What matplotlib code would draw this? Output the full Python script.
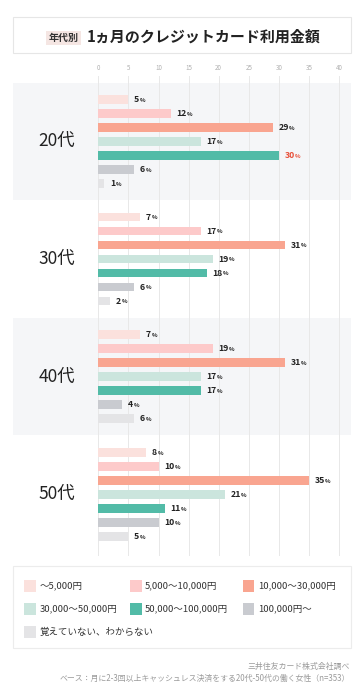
import matplotlib
matplotlib.use('Agg')
import matplotlib.pyplot as plt
from matplotlib.patches import Rectangle
import numpy as np

plt.rcParams['font.family'] = ['Noto Sans CJK JP', 'DejaVu Sans']

groups = ['20代', '30代', '40代', '50代']
categories = ['～5,000円', '5,000～10,000円', '10,000～30,000円', '30,000～50,000円',
              '50,000～100,000円', '100,000円～', '覚えていない、わからない']
colors = ['#fbe1dd', '#fdcaca', '#f9a590', '#cbe5dd', '#52bba7', '#c9cbd0', '#e4e4e6']
values = {
    '20代': [5, 12, 29, 17, 30, 6, 1],
    '30代': [7, 17, 31, 19, 18, 6, 2],
    '40代': [7, 19, 31, 17, 17, 4, 6],
    '50代': [8, 10, 35, 21, 11, 10, 5],
}
highlight = {('20代', 4)}
ticks = list(range(0, 41, 5))

W, H = 363, 700
fig = plt.figure(figsize=(W / 100, H / 100), dpi=100, facecolor='white')

# overlay in pixel coordinates for the title, legend and notes
ov = fig.add_axes([0, 0, 1, 1], zorder=0)
ov.set_xlim(0, W)
ov.set_ylim(H, 0)
ov.axis('off')

ov.add_patch(Rectangle((12.5, 17), 338, 36, facecolor='white', edgecolor='#e6e6e6', lw=0.8))
ov.add_patch(Rectangle((46, 31), 35, 14, facecolor='#f5e6e3', edgecolor='none'))
ov.text(63.5, 38.3, '年代別', ha='center', va='center', fontsize=7.2, fontweight='bold', color='#333333')
ov.text(87, 36.5, '1ヵ月のクレジットカード利用金額', ha='left', va='center', fontsize=10.8,
        fontweight='bold', color='#222222')

# main chart, y in pixel units
px0, pxs = 98.3, 6.02
ax = fig.add_axes([12.5 / W, 1 - 556 / H, 338 / W, (556 - 76) / H], zorder=1)
ax.set_xlim((12.5 - px0) / pxs, (350.5 - px0) / pxs)
ax.set_ylim(556, 76)
ax.patch.set_alpha(0)
for s in ax.spines.values():
    s.set_visible(False)

gstep, bstep, y0 = 117.7, 14.0, 99.3
bar_h = 8.5
for gi, g in enumerate(groups):
    yc = y0 + gi * gstep + 3 * bstep
    if gi % 2 == 0:
        ax.axhspan(yc - 58.5, yc + 58.5, color='#f5f6f8', zorder=0, lw=0)
    ax.text((57 - px0) / pxs, yc, g, ha='center', va='center', fontsize=12.5, color='#222222')

ax.set_xticks(ticks)
ax.xaxis.tick_top()
ax.tick_params(axis='x', length=0, pad=3, labelsize=4.5, labelcolor='#b0b0b0')
ax.set_yticks([])
ax.grid(axis='x', color='#e8e8e8', lw=0.7, zorder=0.5)

num_texts = []
for gi, g in enumerate(groups):
    ys = y0 + gi * gstep + np.arange(len(categories)) * bstep
    ax.barh(ys, values[g], height=bar_h, color=colors, zorder=2)
    for i, (y, v) in enumerate(zip(ys, values[g])):
        c = '#e8503a' if (g, i) in highlight else '#222222'
        t = ax.annotate(str(v), (v, y), xytext=(4, 0), textcoords='offset points',
                        ha='left', va='center', fontsize=6.3, fontweight='bold', color=c)
        num_texts.append((t, v, y, c))

fig.canvas.draw()
r = fig.canvas.get_renderer()
for t, v, y, c in num_texts:
    bb = t.get_window_extent(r)
    wpt = bb.width * 72 / fig.dpi
    ax.annotate('%', (v, y), xytext=(4 + wpt + 0.3, -0.6), textcoords='offset points',
                ha='left', va='center', fontsize=4.2, fontweight='bold', color=c)

# legend
ov.add_patch(Rectangle((12.5, 566), 338, 82, facecolor='white', edgecolor='#ececec', lw=0.8))
col_x = [24.3, 130, 242.7]
row_y = [586, 609, 632]
for i, (lab, col) in enumerate(zip(categories, colors)):
    cx, ry = col_x[i % 3], row_y[i // 3]
    ov.add_patch(Rectangle((cx, ry - 6), 11.7, 11.7, facecolor=col, edgecolor='none'))
    ov.text(cx + 15, ry, lab, ha='left', va='center', fontsize=6.8, color='#333333')

ov.text(350, 666, '三井住友カード株式会社調べ', ha='right', va='center', fontsize=5.7, color='#9a9a9a')
ov.text(350, 678.5, 'ベース：月に2-3回以上キャッシュレス決済をする20代-50代の働く女性（n=353）',
        ha='right', va='center', fontsize=5.7, color='#9a9a9a')

fig.savefig('out.png', dpi=100, facecolor='white')
